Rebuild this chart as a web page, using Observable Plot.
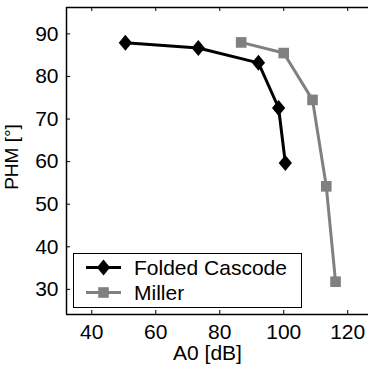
<!DOCTYPE html>
<html>
<head>
<meta charset="utf-8">
<script src="https://cdn.jsdelivr.net/npm/d3@7"></script>
<script src="https://cdn.jsdelivr.net/npm/@observablehq/plot@0.6"></script>
<style>
  html, body { margin: 0; padding: 0; background: #fff; }
  #wrap { position: relative; width: 368px; height: 367px; font-family: "Liberation Sans", Arial, sans-serif; }
  #legend { position: absolute; left: 73px; top: 253px; width: 227px; height: 53px; border: 1px solid #000; background: #fff; }
  #legend svg { position: absolute; left: 0; top: 0; }
</style>
</head>
<body>
<div id="wrap"></div>
<script>
const seriesNames = ["Folded Cascode", "Miller"];
const foldedA0 = [50.5, 73.3, 92.1, 98.4, 100.5];
const foldedPHM = [87.9, 86.7, 83.2, 72.6, 59.7];
const millerA0 = [86.7, 100.0, 109.0, 113.3, 116.2];
const millerPHM = [88.0, 85.5, 74.5, 54.2, 31.8];
const xTicks = [40, 60, 80, 100, 120];
const yTicks = [30, 40, 50, 60, 70, 80, 90];
const xDomain = [32.1, 126.5];
const yDomain = [24.1, 96.2];

const colors = {"Folded Cascode": "#000000", "Miller": "#808080"};

const folded = foldedA0.map((x, i) => ({x, y: foldedPHM[i], s: seriesNames[0]}));
const miller = millerA0.map((x, i) => ({x, y: millerPHM[i], s: seriesNames[1]}));

const W = 368, H = 367, mL = 66, mT = 7, mB = 53, mR = 0;
const innerH = H - mT - mB, innerW = W - mL - mR;
const font = "Liberation Sans, Arial, sans-serif";
const FS = 21;

// MATLAB-like diamond: slightly taller than wide
const matDiamond = {
  draw(context, size) {
    const r = Math.sqrt(size / Math.PI);
    const w = r * 0.83;
    context.moveTo(0, -r);
    context.lineTo(w, 0);
    context.lineTo(0, r);
    context.lineTo(-w, 0);
    context.closePath();
  }
};

const chart = Plot.plot({
  width: W, height: H,
  marginLeft: mL, marginTop: mT, marginBottom: mB, marginRight: mR,
  style: {fontFamily: font, fontSize: FS + "px", color: "#000", background: "#fff"},
  x: {domain: xDomain, ticks: xTicks},
  y: {domain: yDomain, ticks: yTicks},
  marks: [
    Plot.ruleY([yDomain[0]], {stroke: "#000", strokeWidth: 1.5}),
    Plot.ruleY([yDomain[1]], {stroke: "#000", strokeWidth: 1.5}),
    Plot.ruleX([xDomain[0]], {stroke: "#000", strokeWidth: 1.5}),
    Plot.tickX(xTicks, {x: d => d, insetTop: innerH - 4, stroke: "#000"}),
    Plot.tickX(xTicks, {x: d => d, insetBottom: innerH - 4, stroke: "#000"}),
    Plot.tickY(yTicks, {y: d => d, insetRight: innerW - 4, stroke: "#000"}),
    Plot.axisX({ticks: xTicks, tickSize: 0, tickPadding: 10, fontSize: FS, label: null}),
    Plot.axisY({ticks: yTicks, tickSize: 0, tickPadding: 8, fontSize: FS, label: null}),
    Plot.text(["A0 [dB]"], {frameAnchor: "bottom", textAnchor: "middle", lineAnchor: "middle", dy: 39, dx: -10, fontSize: FS, fill: "#000"}),
    Plot.text(["PHM [°]"], {frameAnchor: "left", textAnchor: "middle", lineAnchor: "middle", dx: -54.5, dy: -4, rotate: -90, fontSize: 19, fill: "#000"}),
    Plot.line(miller, {x: "x", y: "y", stroke: colors["Miller"], strokeWidth: 3}),
    Plot.dot(miller, {x: "x", y: "y", symbol: "square", r: 6, fill: colors["Miller"], stroke: "none"}),
    Plot.line(folded, {x: "x", y: "y", stroke: colors["Folded Cascode"], strokeWidth: 3}),
    Plot.dot(folded, {x: "x", y: "y", symbol: matDiamond, r: 8, fill: colors["Folded Cascode"], stroke: "none"})
  ]
});

const wrap = document.getElementById("wrap");
wrap.appendChild(chart);

// Legend
const legend = document.createElement("div");
legend.id = "legend";
const ns = "http://www.w3.org/2000/svg";
const svg = document.createElementNS(ns, "svg");
svg.setAttribute("width", 227);
svg.setAttribute("height", 53);
seriesNames.forEach((name, i) => {
  const cy = 13.5 + i * 25;
  const line = document.createElementNS(ns, "line");
  line.setAttribute("x1", 12); line.setAttribute("x2", 47);
  line.setAttribute("y1", cy); line.setAttribute("y2", cy);
  line.setAttribute("stroke", colors[name]); line.setAttribute("stroke-width", 3);
  svg.appendChild(line);
  let m;
  if (i === 0) {
    m = document.createElementNS(ns, "path");
    const cx = 29.5;
    m.setAttribute("d", `M${cx},${cy-8}L${cx+6.6},${cy}L${cx},${cy+8}L${cx-6.6},${cy}Z`);
  } else {
    m = document.createElementNS(ns, "rect");
    m.setAttribute("x", 29.5 - 5.3); m.setAttribute("y", cy - 5.3);
    m.setAttribute("width", 10.6); m.setAttribute("height", 10.6);
  }
  m.setAttribute("fill", colors[name]);
  svg.appendChild(m);
  const t = document.createElementNS(ns, "text");
  t.setAttribute("x", 60); t.setAttribute("y", cy);
  t.setAttribute("dy", "0.36em");
  t.setAttribute("font-family", font);
  t.setAttribute("font-size", FS);
  t.setAttribute("fill", "#000");
  t.textContent = name;
  svg.appendChild(t);
});
legend.appendChild(svg);
wrap.appendChild(legend);
</script>
</body>
</html>
